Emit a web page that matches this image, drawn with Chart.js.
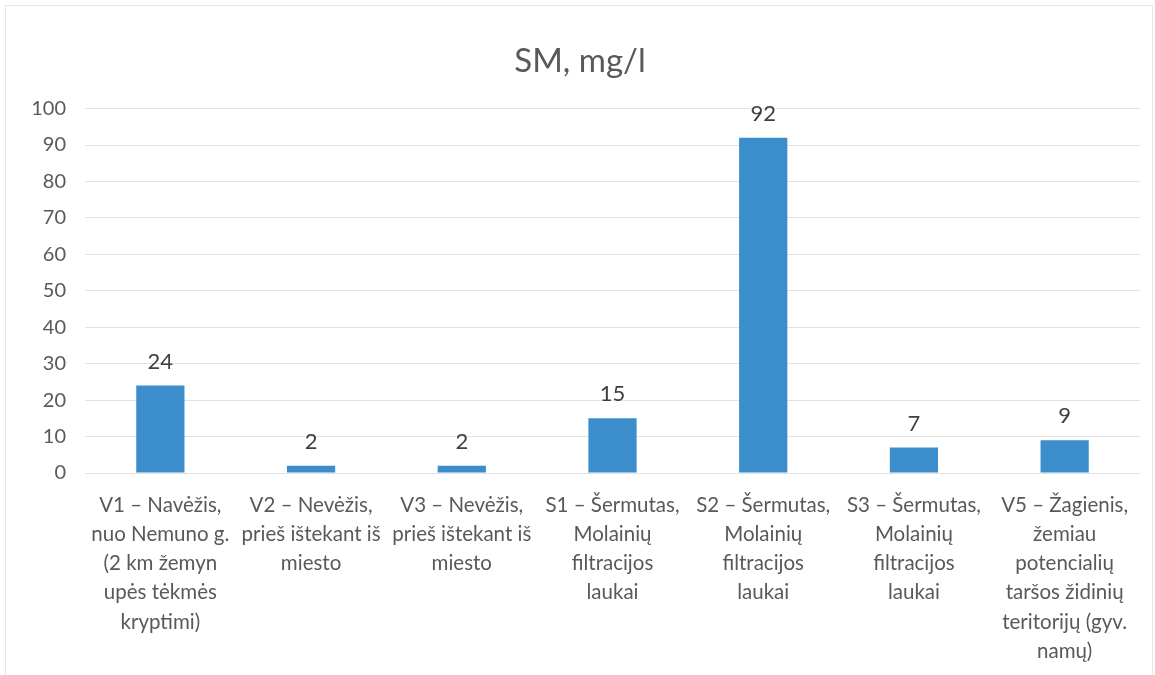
<!DOCTYPE html>
<html>
<head>
<meta charset="utf-8">
<script src="https://cdn.jsdelivr.net/npm/chart.js@4"></script>
<style>
  html, body { margin: 0; padding: 0; background: #ffffff; }
  #wrap { width: 1155px; height: 675px; }
</style>
</head>
<body>
<div id="wrap"><canvas id="c" width="1155" height="675"></canvas></div>
<script>
// Sampling points (multi-line category labels)
const categories = [
  ["V1 – Navėžis,", "nuo Nemuno g.", "(2 km žemyn", "upės tėkmės", "kryptimi)"],
  ["V2 – Nevėžis,", "prieš ištekant iš", "miesto"],
  ["V3 – Nevėžis,", "prieš ištekant iš", "miesto"],
  ["S1 – Šermutas,", "Molainių", "filtracijos", "laukai"],
  ["S2 – Šermutas,", "Molainių", "filtracijos", "laukai"],
  ["S3 – Šermutas,", "Molainių", "filtracijos", "laukai"],
  ["V5 – Žagienis,", "žemiau", "potencialių", "taršos židinių", "teritorijų (gyv.", "namų)"]
];
// Suspended matter, mg/l
const smValues = [24, 2, 2, 15, 92, 7, 9];
const yTicks = [0, 10, 20, 30, 40, 50, 60, 70, 80, 90, 100];

const FONT = "Lato, 'Open Sans', sans-serif";

// Writes each bar's value above it
const valueLabels = {
  id: 'valueLabels',
  afterDatasetsDraw(chart) {
    const ctx = chart.ctx;
    const meta = chart.getDatasetMeta(0);
    ctx.save();
    ctx.font = "22px " + FONT;
    ctx.fillStyle = "#404040";
    ctx.textAlign = "center";
    ctx.textBaseline = "middle";
    meta.data.forEach((bar, i) => {
      ctx.fillText(String(chart.data.datasets[0].data[i]), bar.x, bar.y - 24);
    });
    ctx.restore();
  }
};

// Thin frame round the chart
const frame = {
  id: 'frame',
  beforeDraw(chart) {
    const ctx = chart.ctx;
    ctx.save();
    ctx.strokeStyle = "#e6e6e6";
    ctx.lineWidth = 1;
    ctx.strokeRect(5.5, 5.5, chart.width - 8, chart.height - 4);
    ctx.restore();
  }
};

new Chart(document.getElementById('c'), {
  type: 'bar',
  data: {
    labels: categories,
    datasets: [{
      data: smValues,
      backgroundColor: "#3b8dcb",
      borderWidth: 0,
      categoryPercentage: 1.0,
      barPercentage: 0.32
    }]
  },
  options: {
    responsive: false,
    animation: false,
    layout: { padding: { left: 20, right: 15, top: 0, bottom: 0 } },
    plugins: {
      legend: { display: false },
      tooltip: { enabled: false },
      title: {
        display: true,
        text: "SM, mg/l",
        color: "#595959",
        font: { family: FONT, size: 33, weight: 'normal' },
        padding: { top: 42, bottom: 27 }
      }
    },
    scales: {
      x: {
        grid: { display: false },
        border: { display: false },
        ticks: {
          color: "#595959",
          font: { family: FONT, size: 20.5, lineHeight: 1.42 },
          padding: 10,
          maxRotation: 0,
          autoSkip: false
        },
        afterFit(scale) { scale.height = 202; }
      },
      y: {
        min: 0,
        max: 100,
        afterBuildTicks(scale) { scale.ticks = yTicks.map(v => ({ value: v })); },
        grid: { color: "#e2e2e2", lineWidth: 1, drawTicks: false },
        border: { display: false },
        ticks: {
          color: "#595959",
          font: { family: FONT, size: 20 },
          padding: 19
        },
        afterFit(scale) { scale.width = 65; }
      }
    }
  },
  plugins: [valueLabels, frame]
});
</script>
</body>
</html>
